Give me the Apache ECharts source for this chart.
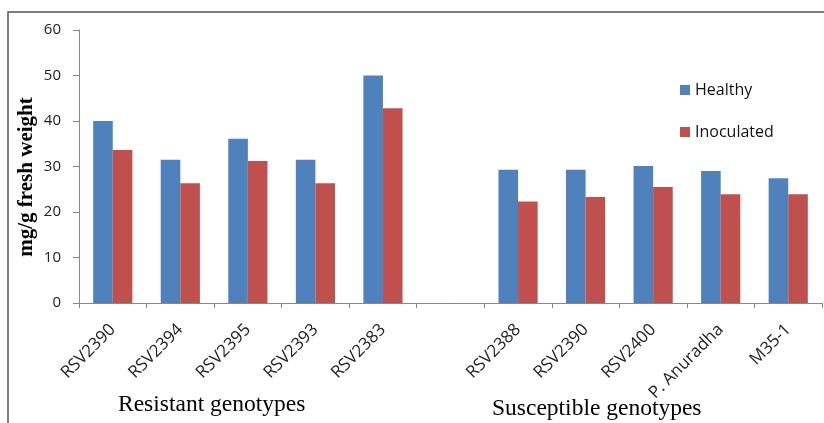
<!DOCTYPE html>
<html><head><meta charset="utf-8">
<script src="https://cdn.jsdelivr.net/npm/echarts@6/dist/echarts.min.js"></script>
<style>html,body{margin:0;padding:0;background:#fff}#c{width:824px;height:423px}</style>
</head><body><div id="c"></div>
<script>
const categories = ['RSV2390','RSV2394','RSV2395','RSV2393','RSV2383','','RSV2388','RSV2390','RSV2400','P. Anuradha','M35-1'];
const healthy    = [40, 31.5, 36.1, 31.5, 50, null, 29.3, 29.3, 30.1, 29.0, 27.4];
const inoculated = [33.6, 26.3, 31.2, 26.3, 42.8, null, 22.3, 23.3, 25.5, 23.9, 23.9];
const yTicks = {min: 0, max: 60, interval: 10};
const groupLabels = ['Resistant genotypes', 'Susceptible genotypes'];
const yName = 'mg/g fresh weight';

const chart = echarts.init(document.getElementById('c'));
const sans = 'Open Sans';
chart.setOption({
  animation: false,
  graphic: [
    {type:'rect', shape:{x:8,y:12,width:900,height:500}, style:{fill:'none', stroke:'#555', lineWidth:1.5}, silent:true},
    {type:'text', x:118, y:405, style:{text:groupLabels[0], font:'23.5px "Liberation Serif"', fill:'#000', textVerticalAlign:'middle'}},
    {type:'text', x:492, y:409, style:{text:groupLabels[1], font:'23.5px "Liberation Serif"', fill:'#000', textVerticalAlign:'middle'}},
    {type:'text', x:27, y:177, rotation:Math.PI/2, style:{text:yName, font:'bold 21px "Liberation Serif"', fill:'#000', textAlign:'center', textVerticalAlign:'middle'}}
  ],
  legend: {
    orient:'vertical', left:680, top:82, padding:0, itemWidth:10, itemHeight:10, itemGap:26,
    icon:'rect',
    textStyle:{fontFamily:sans, fontSize:16, color:'#111'},
    data:['Healthy','Inoculated']
  },
  grid: {left:79, right:2, top:30, bottom:120, containLabel:false},
  xAxis: {
    type:'category', data:categories,
    axisLine:{lineStyle:{color:'#888'}},
    axisTick:{show:true, length:5, lineStyle:{color:'#888'}},
    axisLabel:{rotate:45, interval:0, fontFamily:sans, fontSize:17, color:'#222', margin:24}
  },
  yAxis: {
    type:'value', min:yTicks.min, max:yTicks.max, interval:yTicks.interval,
    axisLine:{show:true, lineStyle:{color:'#888'}},
    axisTick:{show:true, length:6, lineStyle:{color:'#888'}},
    splitLine:{show:false},
    axisLabel:{fontFamily:sans, fontSize:15, color:'#222', margin:18}
  },
  series: [
    {name:'Healthy', type:'bar', data:healthy, barGap:'0%', barCategoryGap:'42%', itemStyle:{color:'#4F81BD'}},
    {name:'Inoculated', type:'bar', data:inoculated, itemStyle:{color:'#C0504D'}}
  ]
});
</script></body></html>
